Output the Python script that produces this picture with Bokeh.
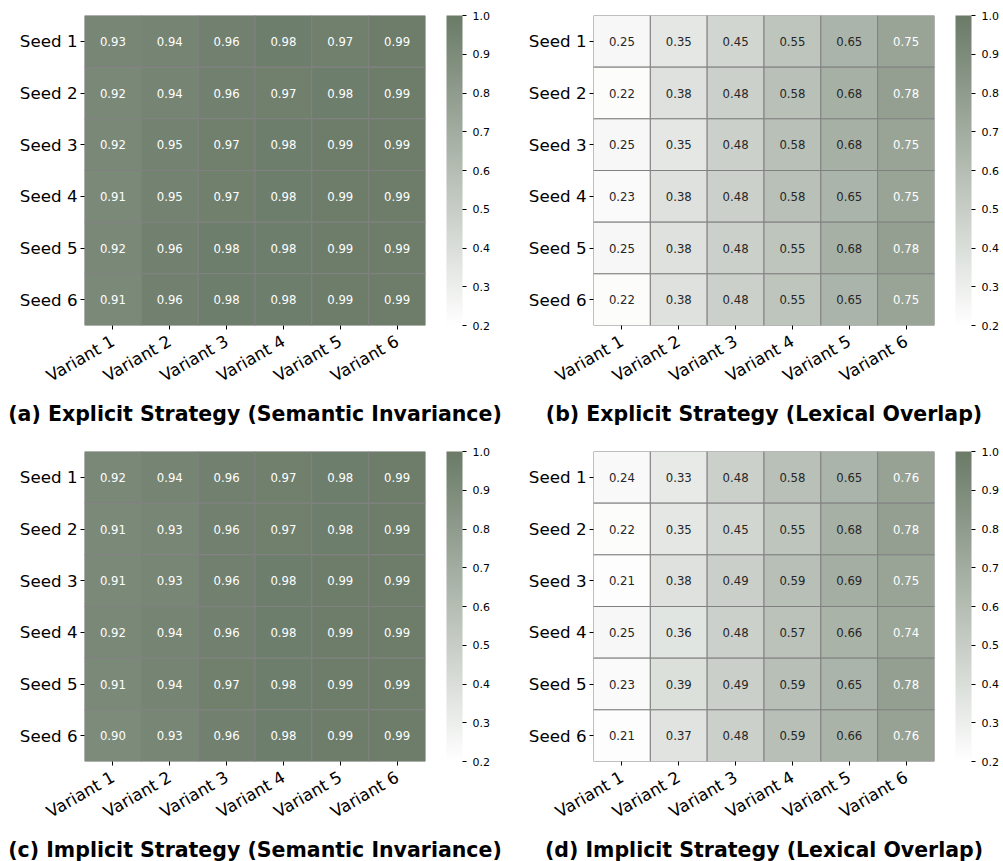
import math
from bokeh.plotting import figure
from bokeh.models import (LinearColorMapper, ColorBar, FixedTicker, FactorRange, Title,
                          ColumnDataSource, PrintfTickFormatter)
from bokeh.layouts import gridplot
from bokeh.embed import file_html
from bokeh.resources import INLINE
from bokeh.core.properties import value
from bokeh.transform import transform

variants = ["Variant 1", "Variant 2", "Variant 3", "Variant 4", "Variant 5", "Variant 6"]
seeds = ["Seed 1", "Seed 2", "Seed 3", "Seed 4", "Seed 5", "Seed 6"]
cbar_ticks = [0.2, 0.3, 0.4, 0.5, 0.6, 0.7, 0.8, 0.9, 1.0]

explicit_semantic = [
    [0.93, 0.94, 0.96, 0.98, 0.97, 0.99],
    [0.92, 0.94, 0.96, 0.97, 0.98, 0.99],
    [0.92, 0.95, 0.97, 0.98, 0.99, 0.99],
    [0.91, 0.95, 0.97, 0.98, 0.99, 0.99],
    [0.92, 0.96, 0.98, 0.98, 0.99, 0.99],
    [0.91, 0.96, 0.98, 0.98, 0.99, 0.99],
]
explicit_lexical = [
    [0.25, 0.35, 0.45, 0.55, 0.65, 0.75],
    [0.22, 0.38, 0.48, 0.58, 0.68, 0.78],
    [0.25, 0.35, 0.48, 0.58, 0.68, 0.75],
    [0.23, 0.38, 0.48, 0.58, 0.65, 0.75],
    [0.25, 0.38, 0.48, 0.55, 0.68, 0.78],
    [0.22, 0.38, 0.48, 0.55, 0.65, 0.75],
]
implicit_semantic = [
    [0.92, 0.94, 0.96, 0.97, 0.98, 0.99],
    [0.91, 0.93, 0.96, 0.97, 0.98, 0.99],
    [0.91, 0.93, 0.96, 0.98, 0.99, 0.99],
    [0.92, 0.94, 0.96, 0.98, 0.99, 0.99],
    [0.91, 0.94, 0.97, 0.98, 0.99, 0.99],
    [0.90, 0.93, 0.96, 0.98, 0.99, 0.99],
]
implicit_lexical = [
    [0.24, 0.33, 0.48, 0.58, 0.65, 0.76],
    [0.22, 0.35, 0.45, 0.55, 0.68, 0.78],
    [0.21, 0.38, 0.49, 0.59, 0.69, 0.75],
    [0.25, 0.36, 0.48, 0.57, 0.66, 0.74],
    [0.23, 0.39, 0.49, 0.59, 0.65, 0.78],
    [0.21, 0.37, 0.48, 0.59, 0.66, 0.76],
]
titles = [
    "(a) Explicit Strategy (Semantic Invariance)",
    "(b) Explicit Strategy (Lexical Overlap)",
    "(c) Implicit Strategy (Semantic Invariance)",
    "(d) Implicit Strategy (Lexical Overlap)",
]

VMIN, VMAX = 0.2, 1.0
C0 = (255, 255, 255)
C1 = (0x6b, 0x7b, 0x68)
N = 256
palette = []
for i in range(N):
    t = i / (N - 1)
    r, g, b = (round(C0[k] + (C1[k] - C0[k]) * t) for k in range(3))
    palette.append("#%02x%02x%02x" % (r, g, b))


def cell_rgb(v):
    t = min(max((v - VMIN) / (VMAX - VMIN), 0), 1)
    return [(C0[k] + (C1[k] - C0[k]) * t) / 255 for k in range(3)]


def lum(rgb):
    lin = [c / 12.92 if c <= 0.03928 else ((c + 0.055) / 1.055) ** 2.4 for c in rgb]
    return 0.2126 * lin[0] + 0.7152 * lin[1] + 0.0722 * lin[2]


FONT = "DejaVu Sans"


def make_panel(data, title, left, top, right, bottom):
    mapper = LinearColorMapper(palette=palette, low=VMIN, high=VMAX)
    xs, ys, vs, labels, tcs = [], [], [], [], []
    for i, s in enumerate(seeds):
        for j, vname in enumerate(variants):
            v = data[i][j]
            xs.append(vname)
            ys.append(s)
            vs.append(v)
            labels.append("%.2f" % v)
            tcs.append("#ffffff" if lum(cell_rgb(v)) < 0.408 else "#262626")
    src = ColumnDataSource(dict(x=xs, y=ys, v=vs, label=labels, tc=tcs))
    p = figure(x_range=FactorRange(*variants), y_range=FactorRange(*seeds[::-1]),
               frame_width=341, frame_height=310, min_border_left=left, min_border_top=top,
               min_border_right=right, min_border_bottom=bottom,
               output_backend="svg", toolbar_location=None, tools="")
    p.rect(x="x", y="y", width=1, height=1, source=src,
           fill_color=transform("v", mapper), line_color="#808080", line_width=1)
    p.text(x="x", y="y", text="label", source=src, text_color="tc",
           text_font=value(FONT), text_font_size="11.7px",
           text_align="center", text_baseline="middle")
    p.grid.visible = False
    p.outline_line_color = None
    p.axis.axis_line_color = None
    p.axis.major_tick_out = 4
    p.axis.major_tick_in = 0
    p.axis.major_tick_line_color = "#000000"
    p.axis.major_label_text_font = FONT
    p.axis.major_label_text_font_size = "16.7px"
    p.axis.major_label_text_color = "#000000"
    p.yaxis.major_label_standoff = 3
    p.xaxis.major_label_standoff = 10
    p.xaxis.major_label_orientation = math.pi / 6
    cb = ColorBar(color_mapper=mapper, ticker=FixedTicker(ticks=cbar_ticks),
                  formatter=PrintfTickFormatter(format="%.1f"),
                  width=16, height=310, margin=0, padding=0,
                  major_tick_out=4, major_tick_in=0, major_tick_line_color="#000000",
                  major_label_text_font=FONT, major_label_text_font_size="11px",
                  major_label_text_color="#000000", label_standoff=6,
                  bar_line_color=None, border_line_color=None,
                  background_fill_alpha=0, location=(21, 0))
    p.add_layout(cb, "right")
    p.add_layout(Title(text=title, align="center", text_font=FONT,
                       text_font_size="20.5px", text_font_style="bold",
                       text_color="#000000", standoff=5), "below")
    return p


pa = make_panel(explicit_semantic, titles[0], 84, 15, 76, 103)
pb = make_panel(explicit_lexical, titles[1], 92, 15, 69, 103)
pc = make_panel(implicit_semantic, titles[2], 84, 23, 76, 98)
pd = make_panel(implicit_lexical, titles[3], 92, 23, 69, 98)

grid = gridplot([[pa, pb], [pc, pd]], toolbar_location=None)

open("out.html", "w").write(file_html(grid, INLINE))
